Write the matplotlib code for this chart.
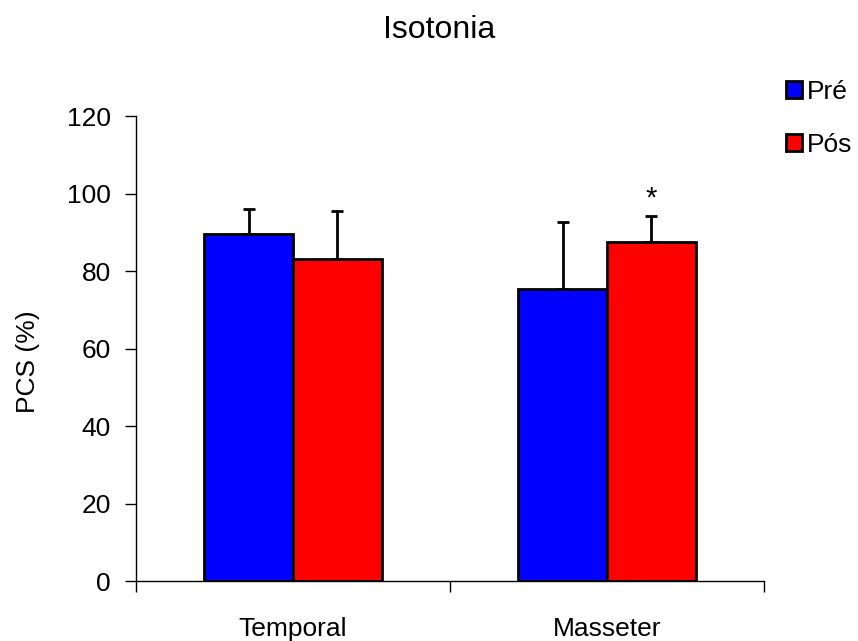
import numpy as np
import matplotlib.pyplot as plt
from matplotlib.patches import Patch

plt.rcParams['font.family'] = ['Liberation Sans', 'DejaVu Sans']

# data
categories = ['Temporal', 'Masseter']
series = ['Pré', 'Pós']
pre_vals = [89.5, 75.3]
pos_vals = [83.1, 87.5]
pre_err = [6.6, 17.3]
pos_err = [12.5, 6.8]
colors = ['#0000ff', '#ff0000']

fig = plt.figure(figsize=(8.58, 6.41), dpi=100)
ax = fig.add_axes([0.1585, 0.0936, 0.7319, 0.7254])

x = np.arange(len(categories))
w = 0.283
err_kw = dict(ecolor='black', elinewidth=2, capsize=4, capthick=2)
ax.bar(x - w/2, pre_vals, w, color=colors[0], edgecolor='black', linewidth=2,
       yerr=[np.zeros(2), pre_err], error_kw=err_kw, zorder=2)
ax.bar(x + w/2, pos_vals, w, color=colors[1], edgecolor='black', linewidth=2,
       yerr=[np.zeros(2), pos_err], error_kw=err_kw, zorder=2)

# significance mark above Masseter / Pós
ax.text(1 + w/2, 96.6, '*', ha='center', va='baseline', fontsize=21)

ax.set_xlim(-0.5, 1.5)
ax.set_ylim(0, 120)
ax.set_yticks(np.arange(0, 121, 20))
ax.set_xticks([-0.5, 0.5, 1.5])
ax.set_xticklabels([])
ax.tick_params(axis='x', length=8, width=1)
ax.tick_params(axis='y', length=8, width=1, labelsize=19, pad=10)
for i, c in enumerate(categories):
    ax.text(i, -14.2, c, ha='center', va='baseline', fontsize=19)
ax.spines['top'].set_visible(False)
ax.spines['right'].set_visible(False)
ax.spines['left'].set_linewidth(1)
ax.spines['bottom'].set_linewidth(1)

fig.text(28/858, 1 - 362/641, 'PCS (%)', rotation=90, ha='center', va='center', fontsize=19)
fig.text(439/858, 1 - 38/641, 'Isotonia', ha='center', va='baseline', fontsize=23)

handles = [Patch(facecolor=colors[i], edgecolor='black', linewidth=2) for i in range(2)]
fig.legend(handles, series, loc='upper left', bbox_to_anchor=(786/858, 1 - 80/641),
           frameon=False, fontsize=19, handlelength=0.6, handleheight=0.6,
           handletextpad=0.2, labelspacing=1.08, borderpad=0, borderaxespad=0)

fig.savefig('out.png', dpi=100)
